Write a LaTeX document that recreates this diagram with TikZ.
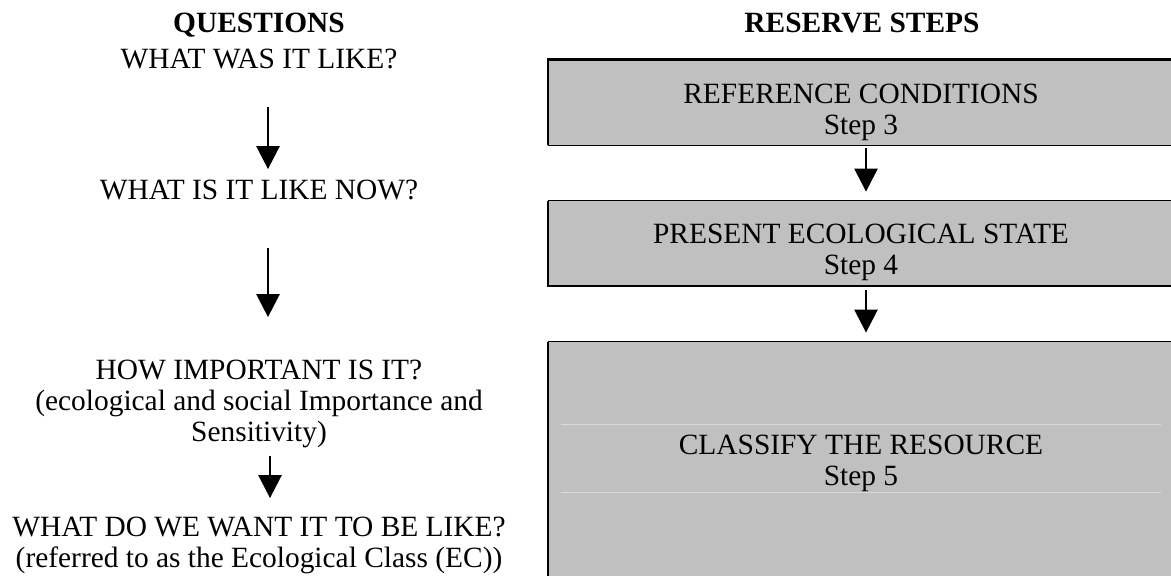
\documentclass[tikz,border=0pt]{standalone}
\usepackage{fontspec}
\setmainfont{Liberation Serif}
\usepackage{tikz}
\usetikzlibrary{arrows.meta}
\definecolor{gris}{HTML}{C0C0C0}
\definecolor{grisclair}{HTML}{DADADA}
\tikzset{
Texte/.style={
 anchor=base, 
 align=center, 
 inner sep=0pt, 
 font=\fontsize{14.7pt}{15.5pt}\selectfont
 },
Titre/.style={
 Texte, 
 font=\fontsize{14.7pt}{15.5pt}\selectfont\bfseries
 },
Etape/.style={
 fill=gris, 
 draw=none, 
 minimum width=313.5pt, 
 inner sep=0pt
 },
Fleche/.style={
 draw=black, 
 line width=1.25pt, 
 -{Triangle[width=11.5pt,length=11.5pt]}
 },
BordFort/.style={draw=black, line width=1.1pt},
BordFin/.style={draw=black, line width=0.5pt},
Filet/.style={draw=grisclair, line width=0.5pt}
}

\begin{document}
\begin{tikzpicture}[x=0.5pt,y=-0.5pt]
\useasboundingbox (0,0) rectangle (1171,576);
\node[Titre] (questions) at (259,33) {QUESTIONS};
\node[Titre] (reserve) at (862,33) {RESERVE STEPS};
\node[Texte] (q1) at (259,69) {WHAT WAS IT LIKE?};
\node[Texte] (q2) at (259,200) {WHAT IS IT LIKE NOW?};
\node[Texte] (q3) at (259,442) {HOW IMPORTANT IS IT?\\(ecological and social Importance and\\Sensitivity)};
\node[Texte] (q4) at (259,567) {WHAT DO WE WANT IT TO BE LIKE?\\(referred to as the Ecological Class (EC))};
\node[Etape, minimum height=42.5pt] (e3) at (861.5,102.5) {};
\node[Etape, minimum height=42.5pt] (e4) at (861.5,243.5) {};
\node[Etape, minimum height=119pt] (e5) at (861.5,461) {};
\foreach \d in {41.5,75.5}
 \draw[Filet] ([xshift=6.5pt,yshift=-\d pt]e5.north west) -- ([xshift=-7pt,yshift=-\d pt]e5.north east);
\draw[BordFort] (e3.south west) -- (e3.north west) -- (e3.north east);
\draw[BordFin] (e3.south west) -- (e3.south east);
\draw[BordFin] (e4.north west) -- (e4.north east);
\draw[BordFort] (e4.north west) -- (e4.south west) -- (e4.south east);
\draw[BordFin] (e5.north west) -- (e5.north east);
\draw[BordFort] (e5.north west) -- (e5.south west);
\node[Texte] (t3) at (861,135) {REFERENCE CONDITIONS\\Step 3};
\node[Texte] (t4) at (861,275) {PRESENT ECOLOGICAL STATE\\Step 4};
\node[Texte] (t5) at (861,485) {CLASSIFY THE RESOURCE\\Step 5};
\draw[Fleche] ([xshift=4.5pt,yshift=-18.5pt]q1.south) -- ([xshift=4.5pt,yshift=5.5pt]q2.north);
\draw[Fleche] ([xshift=4.5pt,yshift=-23.5pt]q2.south) -- ([xshift=4.5pt,yshift=21.5pt]q3.north);
\draw[Fleche] ([xshift=5.5pt,yshift=-3.5pt]q3.south) -- ([xshift=5.5pt,yshift=9pt]q4.north);
\draw[Fleche, shorten <=1.5pt, shorten >=4.5pt] ([xshift=2.25pt]e3.south) -- ([xshift=2.25pt]e4.north);
\draw[Fleche, shorten <=2pt, shorten >=4.5pt] ([xshift=2.25pt]e4.south) -- ([xshift=2.25pt]e5.north);
\end{tikzpicture}
\end{document}
